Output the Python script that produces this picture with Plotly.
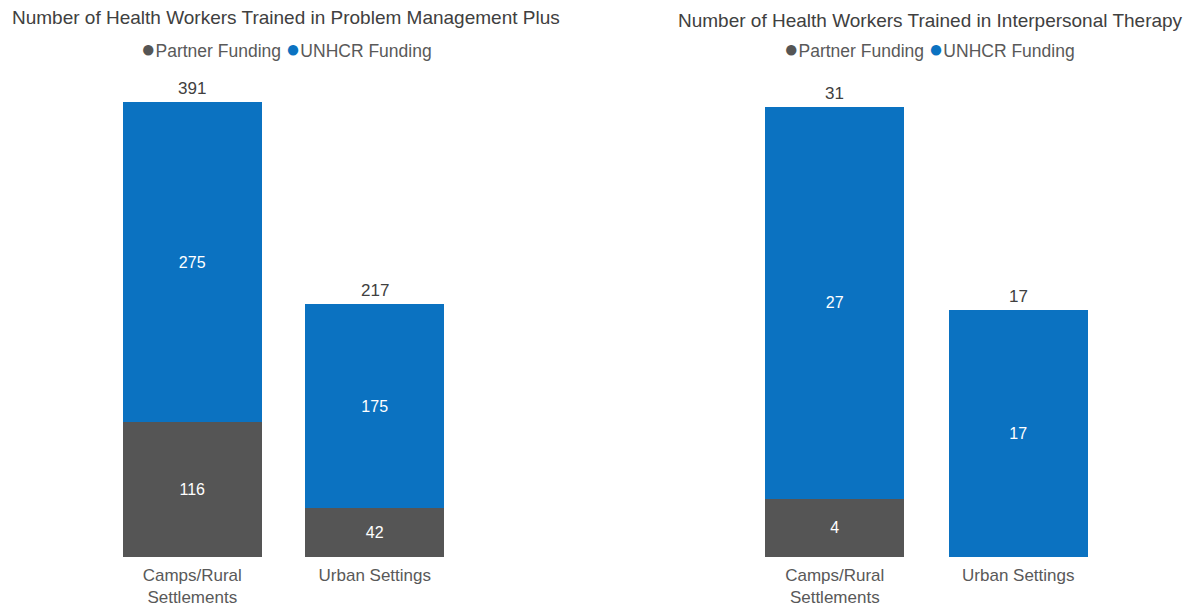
import plotly.graph_objects as go

categories = ["Camps/Rural<br>Settlements", "Urban Settings"]
pmp_partner = [116, 42]
pmp_unhcr = [275, 175]
ipt_partner = [4, 0]
ipt_unhcr = [27, 17]
titles = ["Number of Health Workers Trained in Problem Management Plus",
          "Number of Health Workers Trained in Interpersonal Therapy"]
series_names = ["Partner Funding", "UNHCR Funding"]

GRAY = "#555555"
BLUE = "#0b72c1"
FONT = "Liberation Sans, Arial, sans-serif"
W, H = 1189, 608

fig = go.Figure()

def px_x(p):
    return p / W

def px_y(p):
    return 1 - p / H

panels = [
    dict(partner=pmp_partner, unhcr=pmp_unhcr, xa="x", ya="y", dom=(101, 466), top=409.9),
    dict(partner=ipt_partner, unhcr=ipt_unhcr, xa="x2", ya="y2", dom=(743, 1110), top=32.86),
]

annotations = []
for i, p in enumerate(panels):
    ptext = [str(v) if v else "" for v in p["partner"]]
    fig.add_trace(go.Bar(x=categories, y=p["partner"], name=series_names[0],
                         marker=dict(color=GRAY, line=dict(width=0)),
                         text=ptext, textposition="inside", insidetextanchor="middle",
                         textfont=dict(color="white", size=16, family=FONT),
                         xaxis=p["xa"], yaxis=p["ya"], showlegend=False,
                         textangle=0, cliponaxis=False))
    fig.add_trace(go.Bar(x=categories, y=p["unhcr"], name=series_names[1],
                         marker=dict(color=BLUE, line=dict(width=0)),
                         text=[str(v) for v in p["unhcr"]], textposition="inside",
                         insidetextanchor="middle",
                         textfont=dict(color="white", size=16, family=FONT),
                         xaxis=p["xa"], yaxis=p["ya"], showlegend=False,
                         textangle=0, cliponaxis=False))
    totals = [a + b for a, b in zip(p["partner"], p["unhcr"])]
    for c, t in zip(categories, totals):
        annotations.append(dict(text=str(t), x=c, y=t, xref=p["xa"], yref=p["ya"],
                                xanchor="center", yanchor="bottom", yshift=2,
                                showarrow=False,
                                font=dict(color="#404040", size=17, family=FONT)))

layout_axes = {}
for i, p in enumerate(panels):
    sfx = "" if i == 0 else "2"
    layout_axes["xaxis" + sfx] = dict(domain=[px_x(p["dom"][0]), px_x(p["dom"][1])],
                                      range=[-0.5, 1.5], showgrid=False, zeroline=False,
                                      showline=False, ticks="", ticklabelstandoff=6,
                                      automargin=False,
                                      tickfont=dict(size=17, color="#595959", family=FONT),
                                      anchor="y" + sfx)
    layout_axes["yaxis" + sfx] = dict(domain=[px_y(557), px_y(80)], range=[0, p["top"]],
                                      visible=False, automargin=False, anchor="x" + sfx)

annotations += [
    dict(text=titles[0], x=px_x(10), y=px_y(18), xref="paper", yref="paper",
         xanchor="left", yanchor="middle", showarrow=False,
         font=dict(size=19, color="#404040", family=FONT)),
    dict(text=titles[1], x=px_x(1185), y=px_y(20), xref="paper", yref="paper",
         xanchor="right", yanchor="middle", showarrow=False,
         font=dict(size=19, color="#404040", family=FONT)),
]
legend_text = (f"<span style='color:{GRAY};font-size:24px'>●</span>{series_names[0]} "
               f"<span style='color:{BLUE};font-size:24px'>●</span>{series_names[1]}")
for cx in (286, 929):
    annotations.append(dict(text=legend_text, x=px_x(cx), y=px_y(48), xref="paper", yref="paper",
                            xanchor="center", yanchor="middle", showarrow=False,
                            font=dict(size=17.5, color="#595959", family=FONT)))

fig.update_layout(
    width=W, height=H, barmode="stack", bargap=0.24,
    margin=dict(l=0, r=0, t=0, b=0, autoexpand=False),
    paper_bgcolor="white", plot_bgcolor="white",
    font=dict(family=FONT),
    annotations=annotations,
    **layout_axes,
)

fig.write_html("out.html", config={"displayModeBar": False},
               post_script="document.body.style.margin='0';document.body.style.overflow='hidden';")
